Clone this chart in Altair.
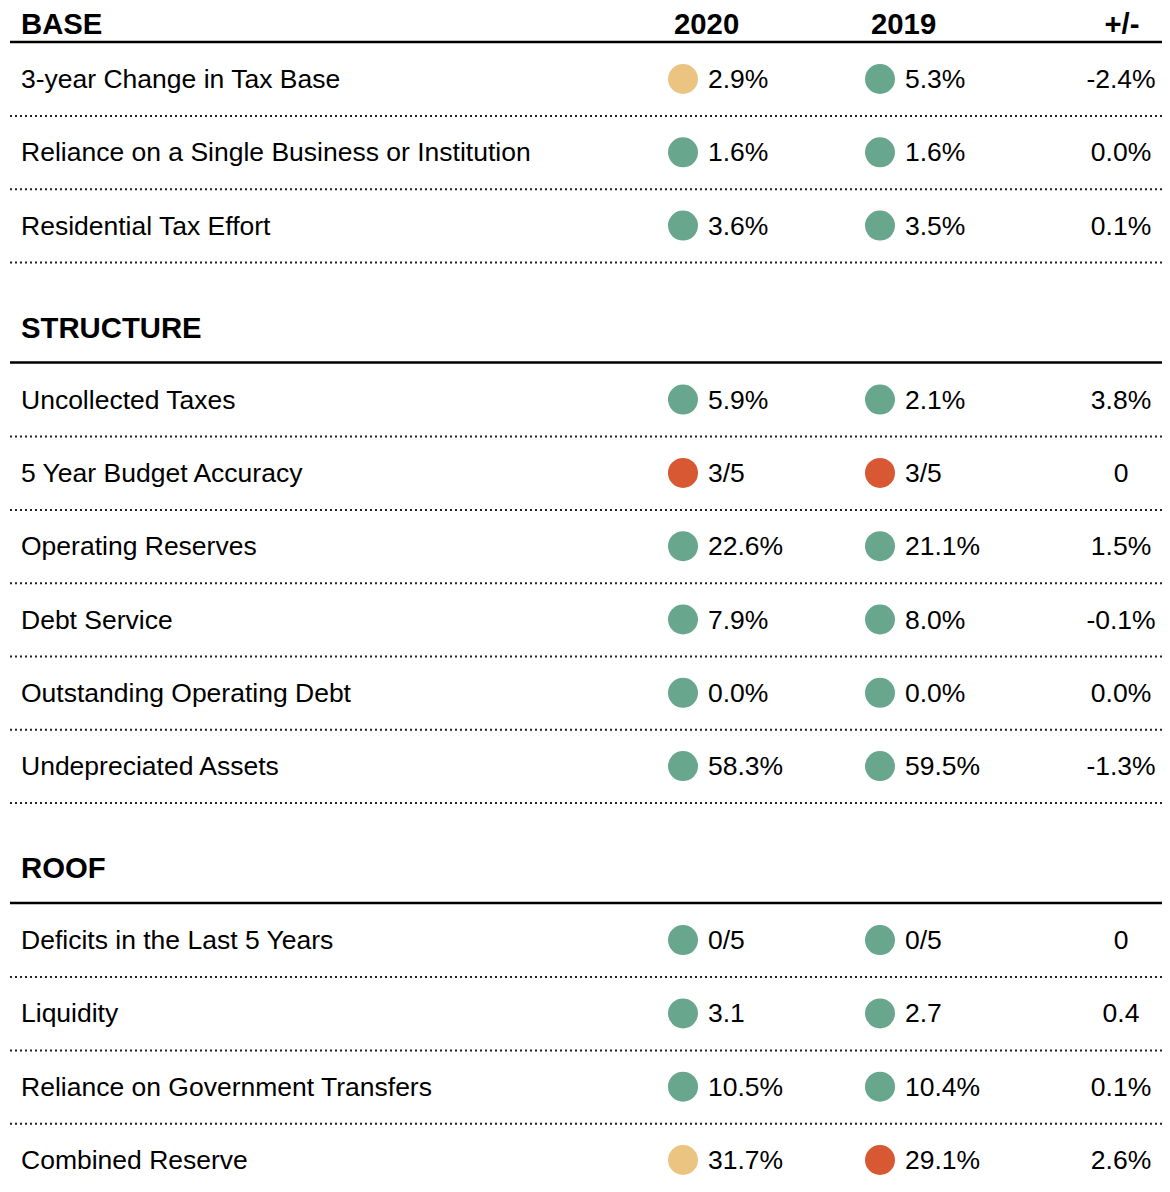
import altair as alt
import pandas as pd

# ---------------- data ----------------
sections = ["BASE", "STRUCTURE", "ROOF"]
section_sizes = [3, 6, 4]
col_heads = ["2020", "2019", "+/-"]

labels = [
    "3-year Change in Tax Base",
    "Reliance on a Single Business or Institution",
    "Residential Tax Effort",
    "Uncollected Taxes",
    "5 Year Budget Accuracy",
    "Operating Reserves",
    "Debt Service",
    "Outstanding Operating Debt",
    "Undepreciated Assets",
    "Deficits in the Last 5 Years",
    "Liquidity",
    "Reliance on Government Transfers",
    "Combined Reserve",
]
v2020 = ["2.9%", "1.6%", "3.6%", "5.9%", "3/5", "22.6%", "7.9%", "0.0%", "58.3%",
         "0/5", "3.1", "10.5%", "31.7%"]
v2019 = ["5.3%", "1.6%", "3.5%", "2.1%", "3/5", "21.1%", "8.0%", "0.0%", "59.5%",
         "0/5", "2.7", "10.4%", "29.1%"]
diffs = ["-2.4%", "0.0%", "0.1%", "3.8%", "0", "1.5%", "-0.1%", "0.0%", "-1.3%",
         "0", "0.4", "0.1%", "2.6%"]
rating2020 = ["watch", "good", "good", "good", "concern", "good", "good", "good", "good",
              "good", "good", "good", "watch"]
rating2019 = ["good", "good", "good", "good", "concern", "good", "good", "good", "good",
              "good", "good", "good", "concern"]

# ---------------- layout ----------------
W, H = 1154, 1184
ROW = 73.3
FONT = "Liberation Sans"
X_LABEL, X_DOT20, X_VAL20, X_DOT19, X_VAL19, X_DIFF = 21, 683, 708, 880, 905, 1121
X_H20, X_H19, X_HD = 674, 871, 1122
X_LINE0, X_LINE1 = 10, 1170

heads, rules, dots, rows = [], [], [], []
idx = 0
last_dot = 0
total = sum(section_sizes)
for s, n in enumerate(section_sizes):
    if s == 0:
        hy, ry = 24, 42
    else:
        hy = last_dot + 65
        ry = hy + 35
    heads.append(dict(text=sections[s], x=X_LABEL, y=hy))
    rules.append(dict(x1=X_LINE0, x2=X_LINE1, y=ry))
    for k in range(n):
        cy = ry + 37 + k * ROW
        rows.append(dict(label=labels[idx], v20=v2020[idx], v19=v2019[idx],
                         diff=diffs[idx], r20=rating2020[idx], r19=rating2019[idx], y=cy))
        dy = cy + 37
        if idx < total - 1:
            dots.append(dict(x1=X_LINE0, x2=X_LINE1, y=dy))
        last_dot = dy
        idx += 1

heads_df = pd.DataFrame(heads)
rules_df = pd.DataFrame(rules)
dots_df = pd.DataFrame(dots)
rows_df = pd.DataFrame(rows)
colh_df = pd.DataFrame(dict(text=col_heads, x=[X_H20, X_H19, X_HD], y=[24, 24, 24],
                            align=["left", "left", "center"]))

xs = alt.Scale(domain=[8, 8 + W], range=[0, W], zero=False, nice=False)
ys = alt.Scale(domain=[8, 8 + H], range=[0, H], zero=False, nice=False)
cs = alt.Scale(domain=["good", "watch", "concern"], range=["#68A68E", "#EBC482", "#D85834"])

def X(f):
    return alt.X(f, type="quantitative", scale=xs, axis=None)

def Y(f):
    return alt.Y(f, type="quantitative", scale=ys, axis=None)

base = alt.Chart(rows_df)
TDY = 1

hdr = dict(baseline="middle", font=FONT, fontSize=29.3, fontWeight="bold", color="#000", dy=TDY)
sec_heads = alt.Chart(heads_df).mark_text(align="left", **hdr).encode(
    x=X("x"), y=Y("y"), text="text:N")
col_heads_l = alt.Chart(colh_df[colh_df["align"] == "left"]).mark_text(align="left", **hdr).encode(
    x=X("x"), y=Y("y"), text="text:N")
col_heads_c = alt.Chart(colh_df[colh_df["align"] == "center"]).mark_text(align="center", **hdr).encode(
    x=X("x"), y=Y("y"), text="text:N")

rule_layer = alt.Chart(rules_df).mark_rule(color="#000", strokeWidth=2.5, clip=False).encode(
    x=X("x1"), x2="x2:Q", y=Y("y"))
dot_layer = alt.Chart(dots_df).mark_rule(color="#222", strokeWidth=2, strokeDash=[2, 3],
                                         clip=False).encode(
    x=X("x1"), x2="x2:Q", y=Y("y"))

txt = dict(baseline="middle", font=FONT, fontSize=26.5, color="#000", dy=TDY)
label_layer = base.transform_calculate(px=str(X_LABEL)).mark_text(align="left", **txt).encode(
    x=X("px"), y=Y("y"), text="label:N")
val20 = base.transform_calculate(px=str(X_VAL20)).mark_text(align="left", **txt).encode(
    x=X("px"), y=Y("y"), text="v20:N")
val19 = base.transform_calculate(px=str(X_VAL19)).mark_text(align="left", **txt).encode(
    x=X("px"), y=Y("y"), text="v19:N")
diff_l = base.transform_calculate(px=str(X_DIFF)).mark_text(align="center", **txt).encode(
    x=X("px"), y=Y("y"), text="diff:N")

dot20 = base.transform_calculate(px=str(X_DOT20)).mark_circle(size=900, opacity=1).encode(
    x=X("px"), y=Y("y"), color=alt.Color("r20:N", scale=cs, legend=None))
dot19 = base.transform_calculate(px=str(X_DOT19)).mark_circle(size=900, opacity=1).encode(
    x=X("px"), y=Y("y"), color=alt.Color("r19:N", scale=cs, legend=None))

chart = alt.layer(
    rule_layer, dot_layer, sec_heads, col_heads_l, col_heads_c,
    label_layer, dot20, val20, dot19, val19, diff_l,
).properties(
    width=W, height=H, padding=0, autosize=alt.AutoSizeParams(type="none"),
    background="white",
).configure_view(stroke=None)

chart.save("out.html", embed_options={"renderer": "svg", "actions": False})
